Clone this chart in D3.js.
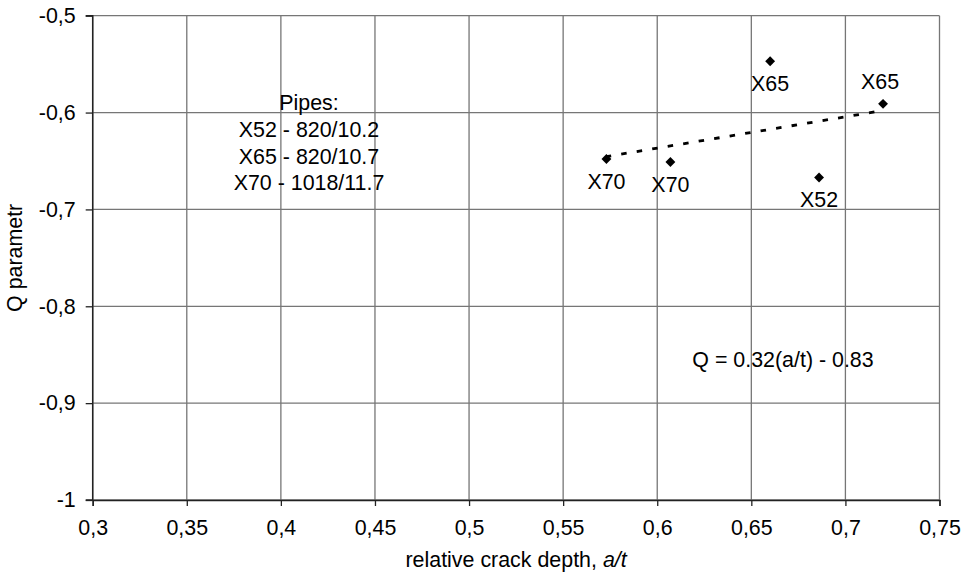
<!DOCTYPE html>
<html>
<head>
<meta charset="utf-8">
<script src="https://cdn.jsdelivr.net/npm/d3@7"></script>
<style>
  html, body { margin: 0; padding: 0; background: #fff; }
  svg { display: block; font-family: "Liberation Sans", Arial, sans-serif; }
</style>
</head>
<body>
<svg id="chart" width="971" height="582"></svg>
<script>
// ---- data ----
const xTicks = [0.3, 0.35, 0.4, 0.45, 0.5, 0.55, 0.6, 0.65, 0.7, 0.75];
const xTickLabels = ["0,3", "0,35", "0,4", "0,45", "0,5", "0,55", "0,6", "0,65", "0,7", "0,75"];
const yTicks = [-1, -0.9, -0.8, -0.7, -0.6, -0.5];
const yTickLabels = ["-1", "-0,9", "-0,8", "-0,7", "-0,6", "-0,5"];
const pointX = [0.573, 0.607, 0.660, 0.686, 0.720];
const pointY = [-0.648, -0.651, -0.547, -0.667, -0.591];
const pointLabels = ["X70", "X70", "X65", "X52", "X65"];
const pipesNote = ["Pipes:", "X52 - 820/10.2", "X65 - 820/10.7", "X70 - 1018/11.7"];
const equationText = "Q = 0.32(a/t) - 0.83";
const xTitle = "relative crack depth, ";
const xTitleItalic = "a/t";
const yTitle = "Q parametr";

// ---- layout ----
const W = 971, H = 582;
const m = { left: 92.7, right: 31.5, top: 15.7, bottom: 82 };
const fs = 21.4;
const svg = d3.select("#chart");

const x = d3.scaleLinear().domain([0.3, 0.75]).range([m.left, W - m.right]);
const y = d3.scaleLinear().domain([-1, -0.5]).range([H - m.bottom, m.top]);

// gridlines
const grid = svg.append("g");
grid.selectAll("line.v").data(xTicks).join("line")
  .attr("x1", d => x(d)).attr("x2", d => x(d))
  .attr("y1", y(-1)).attr("y2", y(-0.5))
  .attr("stroke", "#767676").attr("stroke-width", 1.3);
grid.selectAll("line.h").data(yTicks).join("line")
  .attr("x1", x(0.3)).attr("x2", x(0.75))
  .attr("y1", d => y(d)).attr("y2", d => y(d))
  .attr("stroke", "#767676").attr("stroke-width", 1.3);

// axes
const xAxis = svg.append("g").attr("transform", `translate(0,${y(-1)})`)
  .call(d3.axisBottom(x).tickValues(xTicks).tickSize(6).tickPadding(14)
    .tickFormat((d, i) => xTickLabels[i]));
const yAxis = svg.append("g").attr("transform", `translate(${x(0.3)},0)`)
  .call(d3.axisLeft(y).tickValues(yTicks).tickSize(7).tickPadding(10)
    .tickFormat((d, i) => yTickLabels[i]));
[xAxis, yAxis].forEach(a => {
  a.select(".domain").attr("stroke", "#222").attr("stroke-width", 1.5);
  a.selectAll(".tick line").attr("stroke", "#222").attr("stroke-width", 1.3);
  a.selectAll(".tick text").attr("font-size", fs).attr("font-family", "Liberation Sans, Arial, sans-serif").attr("fill", "#000");
});
yAxis.select(".domain").attr("d", `M-7,${y(-1)}H0V${y(-0.5)}H-7`);

// trendline (least squares through the points)
const mx = d3.mean(pointX), my = d3.mean(pointY);
const slope = d3.sum(pointX, (d, i) => (d - mx) * (pointY[i] - my)) / d3.sum(pointX, d => (d - mx) * (d - mx));
const icpt = my - slope * mx;
const xMin = d3.min(pointX), xMax = d3.max(pointX);
svg.append("line")
  .attr("x1", x(xMin)).attr("y1", y(slope * xMin + icpt))
  .attr("x2", x(xMax)).attr("y2", y(slope * xMax + icpt))
  .attr("stroke", "#000").attr("stroke-width", 2.8)
  .attr("stroke-dasharray", "5.5,10.2").attr("stroke-dashoffset", 0.7);

// points
const pts = pointX.map((d, i) => ({ x: d, y: pointY[i], label: pointLabels[i], above: i === 4 }));
svg.append("g").selectAll("path").data(pts).join("path")
  .attr("d", d3.symbol().type(d3.symbolDiamond2).size(62))
  .attr("transform", d => `translate(${x(d.x)},${y(d.y)})`)
  .attr("fill", "#000");

// point labels
svg.append("g").selectAll("text").data(pts).join("text")
  .attr("x", d => x(d.x) - (d.above ? 3 : 0))
  .attr("y", d => y(d.y) + (d.above ? -15 : 30))
  .attr("text-anchor", "middle").attr("font-size", fs).attr("fill", "#000")
  .text(d => d.label);

// pipes note
const note = svg.append("text").attr("font-size", fs).attr("text-anchor", "middle").attr("fill", "#000");
note.selectAll("tspan").data(pipesNote).join("tspan")
  .attr("x", 309).attr("y", (d, i) => 110 + i * 26.8).text(d => d);

// equation
svg.append("text").attr("x", 783).attr("y", 367).attr("text-anchor", "middle")
  .attr("font-size", fs).attr("fill", "#000").text(equationText);

// axis titles
const xt = svg.append("text").attr("x", (x(0.3) + x(0.75)) / 2).attr("y", 567)
  .attr("text-anchor", "middle").attr("font-size", fs).attr("fill", "#000");
xt.append("tspan").text(xTitle);
xt.append("tspan").attr("font-style", "italic").text(xTitleItalic);

svg.append("text")
  .attr("transform", `translate(22,${(y(-1) + y(-0.5)) / 2}) rotate(-90)`)
  .attr("text-anchor", "middle").attr("font-size", fs).attr("fill", "#000")
  .text(yTitle);
</script>
</body>
</html>
